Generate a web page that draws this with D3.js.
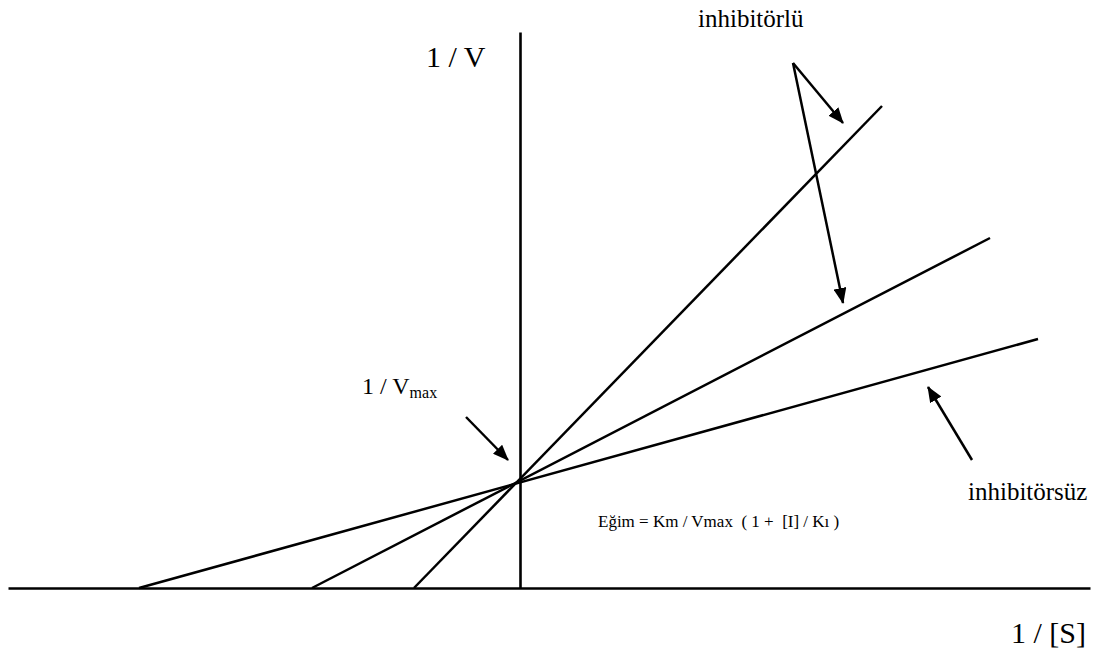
<!DOCTYPE html>
<html>
<head>
<meta charset="utf-8">
<script src="https://cdn.jsdelivr.net/npm/d3@7/dist/d3.min.js"></script>
<style>
  html, body { margin: 0; padding: 0; background: #fff; }
  svg { display: block; }
</style>
</head>
<body>
<svg id="chart" width="1101" height="652"></svg>
<script>
// ---- Data (abstract units: 1/[S] on x, 1/V on y) ----
const lineNames   = ["inhibitörsüz", "inhibitörlü 1", "inhibitörlü 2"];
const xIntercepts = [-3.81, -2.08, -1.06];   // -1/Km(app)
const endX        = [5.18, 4.70, 3.62];
const endY        = [2.49, 3.50, 4.82];
const yIntercept  = 1.07;                    // 1/Vmax (common point)

const xDomain = [-5.12, 5.70];
const yDomain = [0, 5.56];

// arrows: [x1, y1, x2, y2] (data units)
const arrowsData = [
  [2.73, 5.25, 3.23, 4.65],
  [2.73, 5.25, 3.23, 2.85],
  [-0.54, 1.71, -0.12, 1.28],
  [4.52, 1.28, 4.08, 2.01]
];

const SERIF = "'Liberation Serif', 'Times New Roman', Times, 'DejaVu Serif', serif";

const svg = d3.select("#chart");
const x = d3.scaleLinear().domain(xDomain).range([8, 1090]);
const y = d3.scaleLinear().domain(yDomain).range([588, 32]);

// Axes (domain lines only)
const xAxis = d3.axisBottom(x).tickValues([]).tickSizeOuter(0);
const yAxis = d3.axisLeft(y).tickValues([]).tickSizeOuter(0);
svg.append("g").attr("transform", `translate(0,${y(0)})`).call(xAxis)
  .select(".domain").attr("stroke", "#000").attr("stroke-width", 2.6);
svg.append("g").attr("transform", `translate(${x(0)},0)`).call(yAxis)
  .select(".domain").attr("stroke", "#000").attr("stroke-width", 2.6);

// Lines
const lineGen = d3.line().x(d => x(d[0])).y(d => y(d[1]));
lineNames.forEach((n, i) => {
  svg.append("path")
    .attr("d", lineGen([[xIntercepts[i], 0], [endX[i], endY[i]]]))
    .attr("fill", "none")
    .attr("stroke", "#000")
    .attr("stroke-width", 2.5);
});

// Arrow marker
svg.append("defs").append("marker")
  .attr("id", "ah")
  .attr("viewBox", "0 0 16 13")
  .attr("refX", 15).attr("refY", 6.5)
  .attr("markerWidth", 16).attr("markerHeight", 13)
  .attr("markerUnits", "userSpaceOnUse")
  .attr("orient", "auto")
  .append("path").attr("d", "M0,0 L16,6.5 L0,13 Z").attr("fill", "#000");

arrowsData.forEach(a => {
  svg.append("line")
    .attr("x1", x(a[0])).attr("y1", y(a[1]))
    .attr("x2", x(a[2])).attr("y2", y(a[3]))
    .attr("stroke", "#000").attr("stroke-width", 2.5)
    .attr("marker-end", "url(#ah)");
});

// Text labels
function label(px, py, size, txt) {
  return svg.append("text").attr("x", px).attr("y", py)
    .attr("font-family", SERIF).attr("font-size", size).attr("fill", "#000")
    .text(txt);
}
label(426, 67, 30, "1 / V");
label(1011, 643, 30, "1 / [S]");
label(698, 27, 25, "inhibitörlü");
label(968, 500, 25, "inhibitörsüz");

const vm = svg.append("text").attr("x", 362).attr("y", 394)
  .attr("font-family", SERIF).attr("font-size", 24).attr("fill", "#000");
vm.append("tspan").text("1 / V");
vm.append("tspan").attr("font-size", 16).attr("dy", 4).text("max");

label(598, 527, 17, "Eğim = Km / Vmax  ( 1 +  [I] / Kı )")
  .attr("xml:space", "preserve").style("white-space", "pre");
</script>
</body>
</html>
